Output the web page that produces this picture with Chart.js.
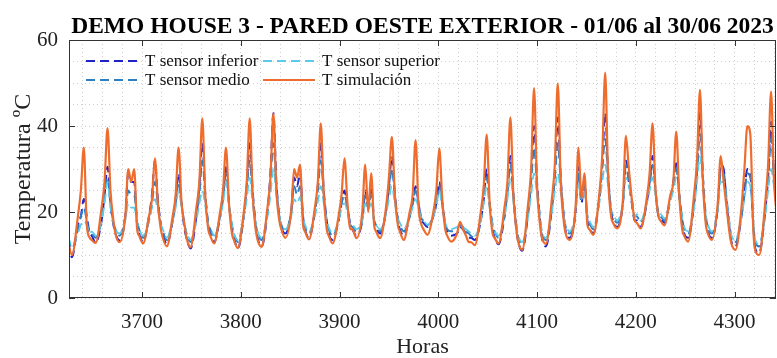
<!DOCTYPE html>
<html>
<head>
<meta charset="utf-8">
<script src="https://cdn.jsdelivr.net/npm/chart.js@4/dist/chart.umd.min.js"></script>
<style>
  html, body { margin: 0; padding: 0; background: #ffffff; }
  #wrap { width: 777px; height: 358px; }
</style>
</head>
<body>
<div id="wrap"><canvas id="tempChart" width="777" height="358"></canvas></div>
<script>
const titulo = 'DEMO HOUSE 3 - PARED OESTE EXTERIOR - 01/06 al 30/06 2023';
const inicioJunio = 3624;               // hora del año, 01/06 00:00
const numDias = 30;
const horasMuestra = [1, 5, 11, 14, 17, 20, 23];   // horas del día
const ticksX = [3700, 3800, 3900, 4000, 4100, 4200, 4300];
const ticksY = [0, 20, 40, 60];

// una fila por día: valores a las horas de horasMuestra
const tSensorInferior = [
    13, 9.5, 17, 19, 23, 19, 15,
    14.5, 12.8, 18, 24, 30.5, 22, 17,
    15, 13.5, 19, 29, 27, 27, 17,
    15, 13, 19, 24, 32, 23, 17,
    15, 12.5, 18, 23, 29, 22, 16,
    14, 11.5, 19, 26, 36, 24, 17,
    15, 13, 19, 24, 31, 22, 16,
    14, 11.5, 19, 26, 36, 25, 17,
    14, 12, 20, 29, 43, 27, 19,
    16.5, 15, 20, 28, 26, 29, 19,
    16, 14, 20, 26, 36, 25, 18,
    15, 13.5, 18, 22, 25, 21, 17,
    16, 14.5, 18, 25, 21, 26, 18,
    16.5, 15, 20, 26, 33, 24, 18,
    16, 14.5, 19, 22, 26, 22, 18,
    17.5, 16.5, 19, 22, 27, 22, 17,
    15.5, 14.5, 15, 16.5, 16, 15, 14,
    14, 13.5, 18, 23, 30, 22, 16,
    14, 12.5, 19, 25, 33, 24, 16,
    13, 11, 20, 28, 40, 27, 18,
    14, 12, 21, 29, 42, 28, 19,
    15.5, 14, 20, 30.5, 22, 27, 18,
    16.5, 15, 23, 31, 43, 29, 20,
    18, 16.5, 22, 32, 27, 22, 18,
    18, 16.5, 22, 27, 33, 25, 19,
    18.5, 17.5, 23, 27, 32, 24, 18,
    15, 14, 22, 30, 43, 28, 18,
    15.5, 14, 21, 31, 30, 22, 16,
    13, 12, 19, 25, 30, 29, 17,
    11.5, 10.5, 20, 28, 41, 28, 20
];

const tSensorMedio = [
    14, 11.5, 16, 19, 21, 18, 15,
    15, 14, 18, 23, 28, 22, 17.5,
    16, 14.5, 19, 25, 24, 24, 18,
    16, 14, 18, 22, 27, 22, 17,
    15.5, 13.5, 18, 22, 27, 22, 17,
    15, 13, 19, 24, 32, 24, 17.5,
    16, 14, 19, 23, 29, 22, 17,
    15, 13, 19, 25, 32, 24, 17.5,
    15, 13.5, 20, 27, 36, 26, 19,
    17, 15.5, 20, 26, 24, 26, 19,
    16.5, 15, 20, 25, 32, 24, 18,
    16, 14.5, 18, 22, 24, 21, 17,
    16.5, 15.5, 18, 24, 21, 24, 18,
    17, 15.5, 20, 25, 30, 24, 18.5,
    17, 15.5, 19, 22, 25, 22, 18.5,
    18, 17, 19, 22, 26, 22, 17.5,
    16, 15.5, 16, 17, 16.5, 15.5, 15,
    14.5, 14, 18, 23, 28, 22, 17,
    15.5, 14, 19, 25, 31, 24, 17,
    14, 12.5, 20, 27, 35, 26, 18.5,
    15, 13.5, 21, 28, 36, 27, 19.5,
    16.5, 15, 20, 29, 23, 26, 19,
    17.5, 16, 23, 30, 37, 28, 20.5,
    19, 17.5, 22, 31, 27, 23, 19,
    19, 17.5, 22, 26, 31, 25, 19.5,
    19, 18, 23, 26, 30, 24, 18.5,
    16, 15, 22, 29, 38, 28, 19,
    16.5, 15, 21, 29, 29, 23, 17,
    14, 13, 19, 24, 29, 28, 17.5,
    13, 12, 20, 27, 37, 28, 21
];

const tSensorSuperior = [
    14.5, 12, 15, 17, 18, 17, 15,
    15.5, 14.5, 18, 22, 27, 21, 17.5,
    16, 15, 18, 22, 21, 21, 17.5,
    16, 14.5, 18, 21, 23, 20.5, 17,
    16, 14, 18, 21, 25, 21, 17,
    15.5, 13.5, 18, 22, 25, 21.5, 17,
    16.5, 14.5, 19, 22, 27, 21.5, 17,
    15, 13.5, 19, 23, 28, 22, 17.5,
    15.5, 14, 19, 24, 30, 24, 19,
    17, 16, 19, 23, 22, 23.5, 18.5,
    17, 15.5, 19, 22.5, 26, 22, 18,
    16.5, 15, 18, 21, 22, 20, 17,
    17, 16, 18, 22, 20.5, 22, 18,
    17, 16, 19.5, 23, 26, 22, 18.5,
    17.5, 16, 19, 21, 23, 21, 18.5,
    18, 17, 19, 21.5, 25, 21, 17.5,
    16.5, 16, 16.5, 17, 16.5, 16, 15.5,
    15, 14.5, 18, 22, 26, 21, 17,
    15.5, 14.5, 19, 23, 28, 22.5, 17,
    14.5, 13, 19, 24, 29, 24, 18.5,
    15.5, 14, 20, 25, 29, 24.5, 19,
    17, 15.5, 20, 27, 23, 25, 19,
    18, 16.5, 22, 27, 31, 26, 20,
    19.5, 18, 22, 28, 26, 22.5, 19,
    19.5, 18, 22, 25, 28, 24, 19.5,
    19.5, 18.5, 22.5, 25, 28, 23.5, 18.5,
    16.5, 15.5, 21, 27, 33, 26, 19,
    17, 15.5, 20.5, 27, 27, 22, 17,
    14.5, 13.5, 19, 23, 27, 26, 17.5,
    13.5, 12.5, 19, 25, 30, 26, 21
];

const tSimulacion = [
    13, 10, 19, 25, 35, 17, 14,
    13.5, 12.8, 21, 27, 39.5, 25, 18,
    15, 13, 19, 30, 27, 30, 16,
    14.5, 12.7, 19, 23, 32.5, 22, 16,
    14, 12, 19, 24, 35, 22, 17,
    14, 11.8, 21, 27, 41.8, 24, 16,
    14.5, 12.7, 20, 25, 35, 22, 15,
    13.5, 11.6, 20, 27, 41.8, 24, 16,
    13.5, 11.9, 21, 28, 43, 25, 18,
    16, 14, 20, 30, 28, 31, 17,
    15.5, 13.6, 21, 27, 40.6, 24, 16,
    14.5, 12.7, 19, 24, 32.5, 22, 16,
    16, 13.9, 20, 31, 20, 29, 17,
    15.5, 13.9, 21, 28, 37.5, 24, 17,
    15.5, 13.5, 20, 24, 36.7, 21, 17,
    16, 14.7, 20, 25, 34.8, 23, 16,
    14.5, 13.1, 15, 17.7, 16, 14.5, 13,
    13, 12.3, 20, 26, 38, 22, 15,
    14, 12.7, 21, 27, 42, 24, 16,
    13, 11.2, 22, 30, 48.8, 26, 17,
    14, 12.6, 23, 31, 49.9, 27, 18,
    15, 13.5, 21, 35, 23, 29, 17,
    16, 14.7, 24, 33, 52.4, 28, 19,
    17.5, 16.2, 23, 37.7, 30, 23, 18,
    17.5, 16.2, 23, 29, 40.6, 25, 19,
    18, 16.9, 24, 27, 38.7, 24, 16,
    14.5, 13.1, 24, 32, 48.4, 27, 17,
    15, 13.5, 22, 33, 27, 21, 15,
    12.5, 11.2, 21, 30, 40, 38, 16,
    11, 10, 22, 31, 48, 27, 19
];

// horas de cada muestra
const horas = [];
for (let d = 0; d < numDias; d++) {
    horasMuestra.forEach(function (h) { horas.push(inicioJunio + d * 24 + h); });
}

function puntos(valores) {
    return valores.map(function (v, i) { return { x: horas[i], y: v }; });
}

const fuente = 'Liberation Serif, Times New Roman, serif';
Chart.defaults.font.family = fuente;
Chart.defaults.color = '#222222';

const DASH = [9, 5];

const marcoPlugin = {
    id: 'marco',
    afterDraw: function (chart) {
        const ctx = chart.ctx;
        const a = chart.chartArea;
        const sx = chart.scales.x;
        const sy = chart.scales.y;

        ctx.save();
        // caja de ejes
        ctx.strokeStyle = '#333333';
        ctx.lineWidth = 1;
        ctx.strokeRect(a.left + 0.5, a.top + 0.5, a.right - a.left - 1, a.bottom - a.top - 1);

        // marcas hacia dentro
        ctx.beginPath();
        ticksX.forEach(function (v) {
            const px = Math.round(sx.getPixelForValue(v)) + 0.5;
            ctx.moveTo(px, a.bottom); ctx.lineTo(px, a.bottom - 6);
            ctx.moveTo(px, a.top); ctx.lineTo(px, a.top + 6);
        });
        ticksY.forEach(function (v) {
            const py = Math.round(sy.getPixelForValue(v)) + 0.5;
            ctx.moveTo(a.left, py); ctx.lineTo(a.left + 6, py);
            ctx.moveTo(a.right, py); ctx.lineTo(a.right - 6, py);
        });
        ctx.stroke();

        // título centrado sobre los ejes
        ctx.fillStyle = '#000000';
        ctx.font = 'bold 23.5px ' + fuente;
        ctx.textAlign = 'center';
        ctx.textBaseline = 'alphabetic';
        ctx.fillText(titulo, (a.left + a.right) / 2, 33);

        // leyenda en dos columnas, sin caja
        ctx.font = '17px ' + fuente;
        ctx.textAlign = 'left';
        ctx.textBaseline = 'middle';
        const cols = [a.left + 17, a.left + 194];
        const filas = [a.top + 21, a.top + 40];
        [0, 1, 2, 3].forEach(function (idx, k) {
            const ds = chart.data.datasets[idx];
            const x0 = cols[Math.floor(k / 2)];
            const y0 = filas[k % 2];
            ctx.beginPath();
            ctx.strokeStyle = ds.borderColor;
            ctx.lineWidth = 2;
            ctx.setLineDash(ds.borderDash || []);
            ctx.moveTo(x0, y0);
            ctx.lineTo(x0 + 52, y0);
            ctx.stroke();
            ctx.setLineDash([]);
            ctx.fillStyle = '#111111';
            ctx.fillText(ds.label, x0 + 59, y0 + 1);
        });
        ctx.restore();
    }
};

new Chart(document.getElementById('tempChart'), {
    type: 'line',
    data: {
        datasets: [
            {
                label: 'T sensor inferior',
                data: puntos(tSensorInferior),
                borderColor: '#1f24c8',
                borderWidth: 2,
                borderDash: DASH,
                order: 4
            },
            {
                label: 'T sensor medio',
                data: puntos(tSensorMedio),
                borderColor: '#2e7ec4',
                borderWidth: 2,
                borderDash: DASH,
                order: 3
            },
            {
                label: 'T sensor superior',
                data: puntos(tSensorSuperior),
                borderColor: '#5ccbeb',
                borderWidth: 1.8,
                borderDash: DASH,
                order: 2
            },
            {
                label: 'T simulación',
                data: puntos(tSimulacion),
                borderColor: '#ee6d2e',
                borderWidth: 2.2,
                order: 1
            }
        ]
    },
    options: {
        responsive: false,
        animation: false,
        devicePixelRatio: 1,
        layout: { padding: { left: 0, right: 1, top: 40, bottom: 0 } },
        elements: {
            point: { radius: 0 },
            line: { cubicInterpolationMode: 'monotone', fill: false }
        },
        plugins: {
            legend: { display: false },
            title: { display: false },
            tooltip: { enabled: false }
        },
        scales: {
            x: {
                type: 'linear',
                min: 3626,
                max: 4342,
                afterBuildTicks: function (scale) {
                    const t = [];
                    for (let v = 3640; v <= 4340; v += 20) t.push({ value: v });
                    scale.ticks = t;
                },
                afterFit: function (scale) {
                    scale.height = 60;
                    scale.paddingLeft = 0;
                    scale.paddingRight = 0;
                },
                grid: { color: '#cfcfcf', lineWidth: 1, drawTicks: false },
                border: { display: false, dash: [1, 3] },
                ticks: {
                    autoSkip: false,
                    maxRotation: 0,
                    padding: 12,
                    color: '#222222',
                    font: { size: 21 },
                    callback: function (value) {
                        return ticksX.indexOf(value) >= 0 ? String(value) : '';
                    }
                },
                title: {
                    display: true,
                    text: 'Horas',
                    color: '#222222',
                    font: { size: 22, lineHeight: 1 },
                    padding: { top: 0, bottom: 0 }
                }
            },
            y: {
                min: 0,
                max: 60,
                afterFit: function (scale) { scale.width = 69; },
                grid: { color: '#cfcfcf', lineWidth: 1, drawTicks: false },
                border: { display: false, dash: [1, 3] },
                ticks: {
                    stepSize: 5,
                    autoSkip: false,
                    padding: 11,
                    color: '#222222',
                    font: { size: 21 },
                    callback: function (value) {
                        return ticksY.indexOf(value) >= 0 ? String(value) : '';
                    }
                },
                title: {
                    display: true,
                    text: 'Temperatura ºC',
                    color: '#222222',
                    font: { size: 24, lineHeight: 1 },
                    padding: { top: 12, bottom: 0 }
                }
            }
        }
    },
    plugins: [marcoPlugin]
});
</script>
</body>
</html>
